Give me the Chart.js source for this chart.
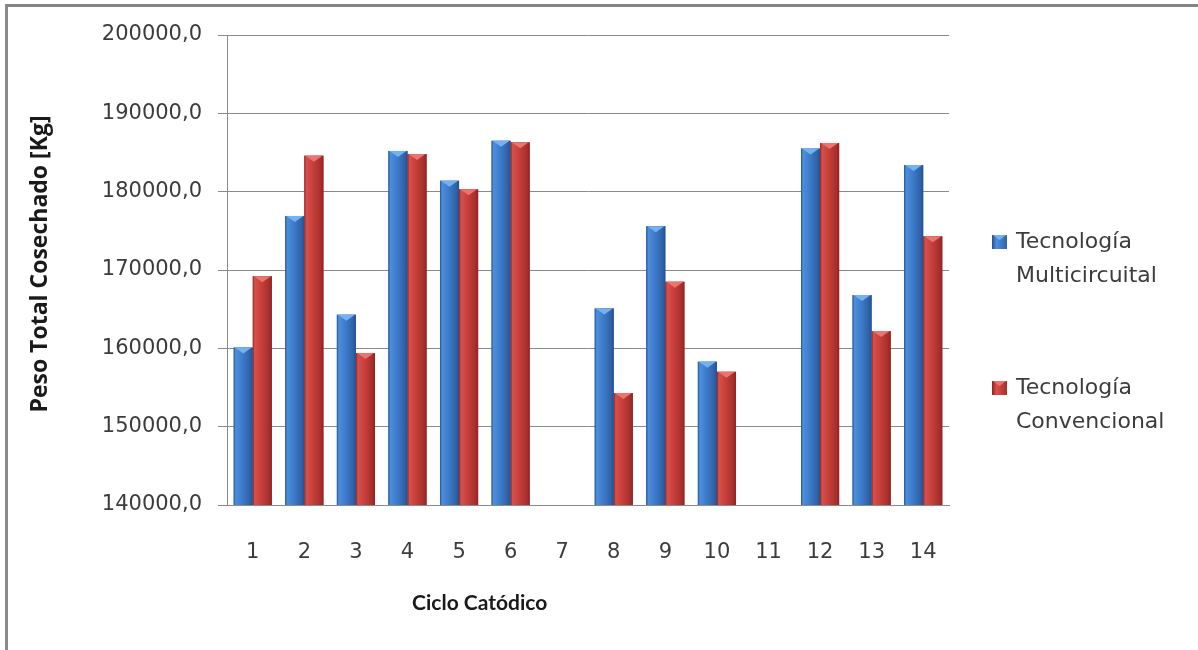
<!DOCTYPE html>
<html>
<head>
<meta charset="utf-8">
<title>Peso Total Cosechado por Ciclo Catódico</title>
<script src="https://cdn.jsdelivr.net/npm/chart.js@4.4.0/dist/chart.umd.min.js"></script>
<style>
  html, body { margin: 0; padding: 0; background: #ffffff; }
  #wrap { position: relative; width: 1198px; height: 650px; overflow: hidden; }
  #c { position: absolute; left: 0; top: 0; }
  #frame {
    position: absolute; left: 5px; top: 4px; right: -4px; bottom: -4px;
    border-top: 3px solid #858585; border-left: 3px solid #8a8a8a;
    pointer-events: none;
  }
</style>
</head>
<body>
<div id="wrap">
  <canvas id="c" width="1198" height="650"></canvas>
  <div id="frame"></div>
</div>
<script>
// Ciclos catódicos (eje X)
const ciclos = ['1', '2', '3', '4', '5', '6', '7', '8', '9', '10', '11', '12', '13', '14'];

// Peso total cosechado [Kg] por tecnología (ciclos 7 y 11 sin datos)
const multicircuital = [160100, 176900, 164300, 185200, 181400, 186500, null,
                        165100, 175600, 158300, null, 185500, 166800, 183400];
const convencional   = [169200, 184600, 159400, 184800, 180300, 186300, null,
                        154300, 168500, 157000, null, 186200, 162200, 174300];

// Escala del eje Y
const yMin = 140000;
const yMax = 200000;
const yStep = 10000;

// Textos
const serieNombres = [['Tecnología', 'Multicircuital'], ['Tecnología', 'Convencional']];
const tituloX = 'Ciclo Catódico';
const tituloY = 'Peso Total Cosechado [Kg]';

// Paletas para el sombreado biselado de las barras
const paletas = [
  { base: '#3b78c6', edge: '#24508f', light: '#4c8fdc', mid: '#3d7bca', dark: '#2f62a8', cap: '#73b2ef' },
  { base: '#c43c38', edge: '#8e2322', light: '#d8504b', mid: '#c63f3a', dark: '#a82f2c', cap: '#ea7470' }
];

const tickFont = { family: '"DejaVu Sans", sans-serif', size: 21 };
const textColor = '#3c3c3c';

// Sombreado de barras y tapa superior en forma de bisel
const biselPlugin = {
  id: 'bisel',
  afterDatasetsDraw(chart) {
    const ctx = chart.ctx;
    const area = chart.chartArea;
    ctx.save();
    ctx.beginPath();
    ctx.rect(area.left, area.top, area.right - area.left, area.bottom - area.top);
    ctx.clip();
    chart.data.datasets.forEach((ds, di) => {
      const meta = chart.getDatasetMeta(di);
      if (meta.hidden) return;
      const p = paletas[di];
      meta.data.forEach((bar, i) => {
        if (ds.data[i] == null) return;
        const { x, y, base, width } = bar.getProps(['x', 'y', 'base', 'width'], true);
        const l = x - width / 2, r = x + width / 2;
        const bottom = Math.min(base, area.bottom);
        const g = ctx.createLinearGradient(l, 0, r, 0);
        g.addColorStop(0, p.edge);
        g.addColorStop(0.1, p.light);
        g.addColorStop(0.45, p.mid);
        g.addColorStop(0.85, p.dark);
        g.addColorStop(1, p.edge);
        ctx.fillStyle = g;
        ctx.fillRect(l, y, width, bottom - y);
        // bisel superior
        ctx.fillStyle = p.cap;
        ctx.beginPath();
        ctx.moveTo(l + 1, y);
        ctx.lineTo(r - 1, y);
        ctx.lineTo(x, y + 6);
        ctx.closePath();
        ctx.fill();
      });
    });
    ctx.restore();
  }
};

// Títulos de ejes y leyenda
const textosPlugin = {
  id: 'textos',
  afterDraw(chart) {
    const ctx = chart.ctx;
    const area = chart.chartArea;
    ctx.save();
    ctx.fillStyle = '#1a1a1a';
    ctx.textAlign = 'center';
    ctx.textBaseline = 'middle';
    // título eje Y
    ctx.font = 'bold 23px "Open Sans", sans-serif';
    ctx.save();
    ctx.translate(40, (area.top + area.bottom) / 2 - 6);
    ctx.rotate(-Math.PI / 2);
    ctx.fillText(tituloY, 0, 0);
    ctx.restore();
    // título eje X
    ctx.font = 'bold 21px Lato, sans-serif';
    ctx.fillText(tituloX, area.left + (area.right - area.left) * 0.35, 603);

    // leyenda
    const lx = area.right + 43;
    const entradas = [242, 388];
    ctx.textAlign = 'left';
    ctx.font = '22px "DejaVu Sans", sans-serif';
    chart.data.datasets.forEach((ds, di) => {
      const p = paletas[di];
      const cy = entradas[di];
      const g = ctx.createLinearGradient(lx, 0, lx + 15, 0);
      g.addColorStop(0, p.edge);
      g.addColorStop(0.3, p.light);
      g.addColorStop(1, p.dark);
      ctx.fillStyle = g;
      ctx.fillRect(lx, cy - 7, 15, 14);
      ctx.fillStyle = p.cap;
      ctx.beginPath();
      ctx.moveTo(lx + 1, cy - 7);
      ctx.lineTo(lx + 14, cy - 7);
      ctx.lineTo(lx + 7.5, cy - 2);
      ctx.closePath();
      ctx.fill();
      ctx.fillStyle = textColor;
      ds.label.forEach((linea, k) => {
        ctx.fillText(linea, lx + 24, cy + k * 34);
      });
    });
    ctx.restore();
  }
};

new Chart(document.getElementById('c'), {
  type: 'bar',
  data: {
    labels: ciclos,
    datasets: [
      { label: serieNombres[0], data: multicircuital, backgroundColor: paletas[0].base },
      { label: serieNombres[1], data: convencional, backgroundColor: paletas[1].base }
    ]
  },
  options: {
    responsive: false,
    animation: false,
    events: [],
    datasets: { bar: { categoryPercentage: 0.74, barPercentage: 1.0, borderWidth: 0 } },
    layout: { padding: { top: 35, right: 249, bottom: 0, left: 0 } },
    plugins: {
      legend: { display: false },
      tooltip: { enabled: false },
      title: { display: false }
    },
    scales: {
      x: {
        grid: { display: false, drawTicks: false },
        border: { display: true, color: '#8a8a8a', width: 1 },
        ticks: { font: tickFont, color: textColor, padding: 35, maxRotation: 0, autoSkip: false },
        afterFit(scale) { scale.height = 145; }
      },
      y: {
        min: yMin,
        max: yMax,
        grid: { color: '#8a8a8a', lineWidth: 1, drawTicks: true, tickLength: 9 },
        border: { display: true, color: '#8a8a8a', width: 1 },
        ticks: {
          stepSize: yStep,
          font: tickFont,
          color: textColor,
          padding: 16,
          callback: (v) => v.toFixed(1).replace('.', ',')
        },
        afterFit(scale) { scale.width = 227; }
      }
    }
  },
  plugins: [biselPlugin, textosPlugin]
});
</script>
</body>
</html>
